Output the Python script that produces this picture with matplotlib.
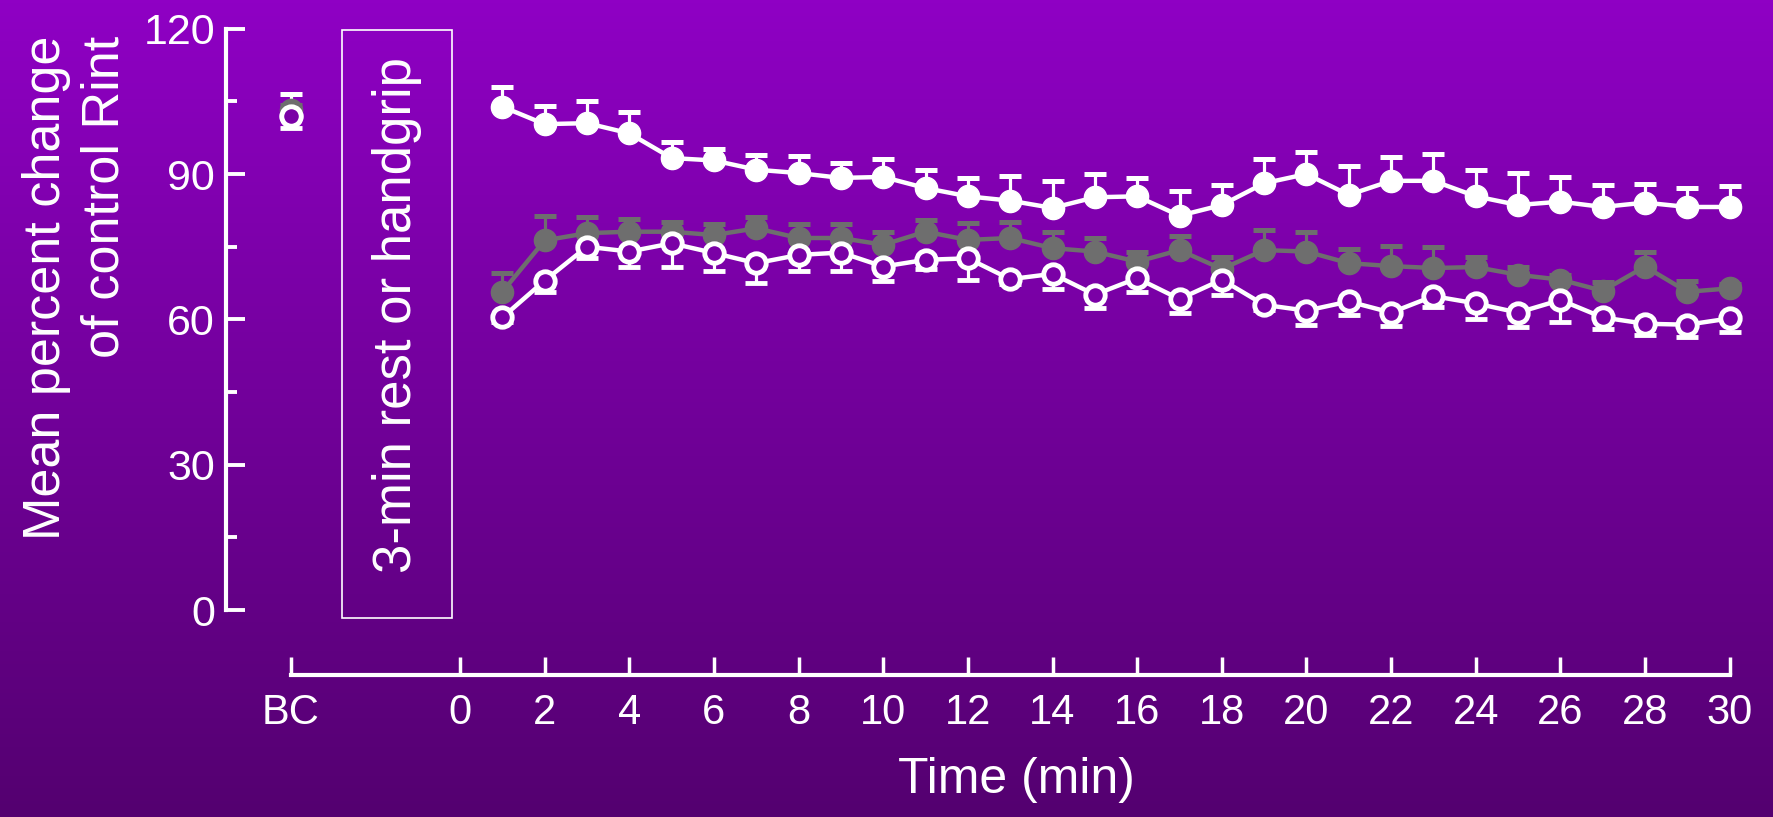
import numpy as np
import matplotlib.pyplot as plt
from matplotlib.patches import Rectangle

plt.rcParams['font.family'] = ['Liberation Sans', 'DejaVu Sans']

# ---- data ----
time = np.arange(1, 31)
bc_pos = -4
xtick_pos = [-4] + list(range(0, 31, 2))
xtick_labels = ['BC'] + [str(v) for v in range(0, 31, 2)]
yticks = [0, 30, 60, 90, 120]

# white filled circles (error bars up)
white_mean = [103.9, 100.3, 100.5, 98.4, 93.3, 92.8, 90.9, 90.2, 89.2, 89.4,
              87.1, 85.4, 84.5, 83.0, 85.2, 85.4, 81.4, 83.6, 88.1, 90.0,
              85.7, 88.6, 88.6, 85.4, 83.6, 84.3, 83.2, 84.1, 83.2, 83.2]
white_err = [4.0, 3.8, 4.5, 4.5, 3.4, 2.3, 3.1, 3.6, 3.1, 3.7,
             3.8, 3.8, 5.1, 5.6, 4.8, 3.8, 5.0, 4.1, 5.0, 4.6,
             5.9, 4.9, 5.5, 5.4, 6.6, 5.0, 4.6, 3.9, 3.9, 4.4]
# grey filled circles (error bars up)
grey_mean = [65.7, 76.3, 77.8, 78.1, 78.1, 77.4, 78.8, 76.8, 76.8, 75.4,
             78.1, 76.4, 76.8, 74.7, 74.0, 71.9, 74.3, 70.4, 74.3, 74.0,
             71.6, 71.0, 70.6, 70.8, 69.2, 68.2, 65.9, 70.9, 65.7, 66.4]
grey_err = [3.8, 5.0, 3.4, 2.6, 2.0, 2.3, 2.4, 2.9, 2.9, 2.7,
            2.4, 3.5, 3.4, 3.4, 2.8, 2.1, 3.0, 2.4, 4.1, 4.0,
            3.0, 4.1, 4.3, 2.1, 1.7, 1.0, 1.9, 3.1, 2.3, 1.0]
# open circles (error bars down)
open_mean = [60.4, 68.0, 75.0, 74.0, 75.7, 73.7, 71.6, 73.3, 73.8, 70.9,
             72.3, 72.6, 68.3, 69.4, 65.1, 68.5, 64.2, 68.2, 63.0, 61.8,
             63.7, 61.4, 64.8, 63.3, 61.4, 64.0, 60.4, 59.1, 58.9, 60.2]
open_err = [1.0, 2.3, 2.4, 3.1, 4.8, 3.7, 4.0, 3.3, 3.8, 3.0,
            1.9, 4.4, 1.0, 3.1, 2.8, 2.8, 2.9, 3.1, 1.0, 2.9,
            2.8, 2.7, 2.2, 3.3, 2.9, 4.6, 2.3, 2.4, 2.6, 2.9]
# baseline control values
bc_white, bc_white_err = 102.0, 4.6
bc_grey, bc_grey_err = 103.3, 1.0
bc_open, bc_open_err = 102.0, 2.5

# ---- colours ----
bg_top = np.array([143, 0, 196]) / 255
bg_bot = np.array([84, 0, 112]) / 255
grey = '#6e6e6e'
open_face = bg_top + 0.36 * (bg_bot - bg_top)

W, H = 1774, 817
fig = plt.figure(figsize=(W / 100, H / 100), dpi=100)

# gradient background
bg = fig.add_axes([0, 0, 1, 1], zorder=-5)
grad = np.linspace(0, 1, 256)[:, None, None]
bg.imshow(bg_top + grad * (bg_bot - bg_top), aspect='auto', extent=[0, 1, 0, 1])
bg.axis('off')

ax = fig.add_axes([226 / W, 1 - 675 / H, (1772 - 226) / W, (675 - 19) / H])
ax.set_facecolor('none')
ax.set_xlim(-5.53, 31.0)
ax.set_ylim(-13.4, 122)

common = dict(lw=3.2, elinewidth=2.3, capsize=8, capthick=3.6)
filled_ms = 16
open_ms, open_mew = 14, 3.5

ax.errorbar(time, grey_mean, yerr=[np.zeros(30), grey_err], fmt='-o', color=grey,
            ms=filled_ms, mec=grey, zorder=2, **common)
ax.errorbar(time, open_mean, yerr=[open_err, np.zeros(30)], fmt='-o', color='white',
            ms=open_ms, mfc=open_face, mec='white', mew=open_mew, zorder=3, **common)
ax.errorbar(time, white_mean, yerr=[np.zeros(30), white_err], fmt='-o', color='white',
            ms=filled_ms, mec='white', zorder=4, **common)

# BC points
ax.errorbar([bc_pos], [bc_white], yerr=[[0], [bc_white_err]], fmt='o', color='white',
            ms=filled_ms, zorder=2, **common)
ax.errorbar([bc_pos], [bc_grey], yerr=[[0], [bc_grey_err]], fmt='o', color=grey,
            ms=filled_ms, zorder=3, **common)
ax.errorbar([bc_pos], [bc_open], yerr=[[bc_open_err], [0]], fmt='o', color='white',
            ms=open_ms, mfc=open_face, mec='white', mew=open_mew, zorder=4, **common)

# rest / handgrip box
ax.add_patch(Rectangle((-2.79, -1.65), 2.59, 121.35, fill=False, ec='white', lw=1.2))
ax.text(-1.5, 61, '3-min rest or handgrip', rotation=90, ha='center', va='center',
        color='white', fontsize=38)

for s in ['top', 'right']:
    ax.spines[s].set_visible(False)
for s in ['left', 'bottom']:
    ax.spines[s].set_color('white')
    ax.spines[s].set_linewidth(3)
ax.spines['left'].set_bounds(0, 120)
ax.spines['bottom'].set_bounds(-4, 30)

ax.set_yticks(yticks)
ax.set_yticks([15, 45, 75, 105], minor=True)
ax.set_xticks(xtick_pos)
ax.set_xticklabels(xtick_labels)
ax.tick_params(axis='y', which='major', direction='in', length=14, width=2.8,
               colors='white', labelsize=31, pad=8)
ax.tick_params(axis='y', which='minor', direction='in', length=8, width=2.8, colors='white')
ax.tick_params(axis='x', which='major', direction='in', length=13, width=2.5,
               colors='white', labelsize=30, pad=13)

fig.text(47 / W, 1 - 36 / H, 'Mean percent change', rotation=90, ha='center', va='top',
         color='white', fontsize=37.5)
fig.text(105 / W, 1 - 36 / H, 'of control Rint', rotation=90, ha='center', va='top',
         color='white', fontsize=37.5)
fig.text(1016 / W, 1 - 780 / H, 'Time (min)', ha='center', va='center',
         color='white', fontsize=36)

fig.savefig('out.png', dpi=100)
